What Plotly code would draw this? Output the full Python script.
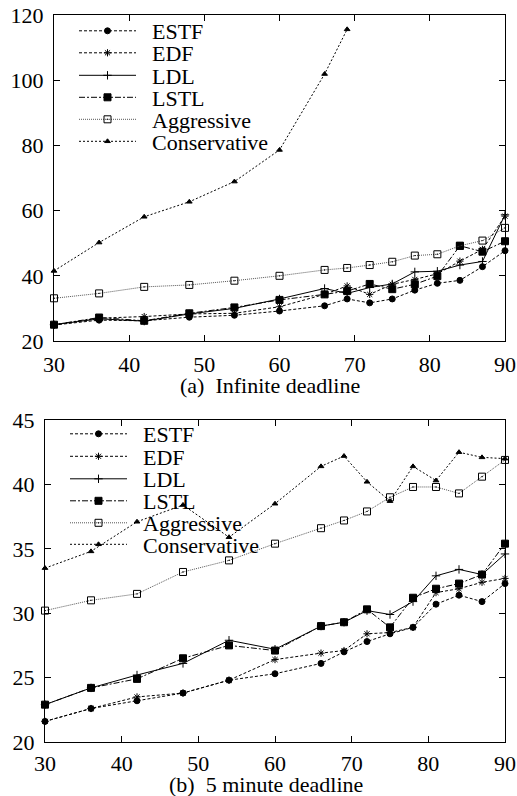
import plotly.graph_objects as go

# ---------------- data ----------------
x_vals = [30, 36, 42, 48, 54, 60, 66, 69, 72, 75, 78, 81, 84, 87, 90]

# (a) Infinite deadline
estf_a = [24.9, 26.4, 26.2, 27.3, 27.9, 29.2, 30.8, 32.9, 31.7, 32.9, 35.6, 37.7, 38.6, 42.8, 47.7]
edf_a = [25.0, 27.0, 27.5, 28.3, 28.5, 30.5, 34.3, 36.9, 34.3, 37.4, 38.9, 40.6, 44.5, 48.1, 58.3]
ldl_a = [25.0, 26.8, 26.1, 28.3, 30.0, 32.9, 36.1, 34.6, 36.4, 37.5, 41.2, 41.4, 43.3, 44.4, 58.7]
lstl_a = [25.0, 27.2, 26.2, 28.5, 30.3, 32.6, 34.3, 35.3, 37.5, 35.9, 37.4, 39.9, 49.2, 47.4, 50.6]
aggr_a = [33.1, 34.6, 36.6, 37.2, 38.5, 40.0, 41.8, 42.4, 43.3, 44.3, 46.2, 46.6, 49.2, 50.8, 54.7]
x_cons_a = [30, 36, 42, 48, 54, 60, 66, 69]
cons_a = [41.5, 50.2, 58.1, 62.7, 68.9, 78.6, 101.9, 115.6]

# (b) 5 minute deadline
estf_b = [21.6, 22.6, 23.2, 23.8, 24.8, 25.3, 26.1, 27.0, 27.8, 28.4, 28.9, 30.7, 31.4, 30.9, 32.3]
edf_b = [21.6, 22.6, 23.5, 23.8, 24.8, 26.4, 26.9, 27.1, 28.4, 28.5, 28.9, 31.6, 31.9, 32.4, 32.7]
ldl_b = [22.9, 24.2, 25.2, 26.1, 27.9, 27.2, 29.0, 29.3, 30.2, 29.9, 30.9, 32.9, 33.4, 33.0, 34.6]
lstl_b = [22.9, 24.2, 24.9, 26.5, 27.5, 27.1, 29.0, 29.3, 30.3, 28.9, 31.2, 31.9, 32.3, 33.0, 35.4]
aggr_b = [30.2, 31.0, 31.5, 33.2, 34.1, 35.4, 36.6, 37.2, 37.9, 39.0, 39.8, 39.8, 39.3, 40.6, 41.9]
cons_b = [33.5, 34.8, 37.1, 38.4, 35.9, 38.5, 41.4, 42.2, 40.2, 38.7, 41.4, 40.3, 42.5, 42.1, 42.0]

names = ["ESTF", "EDF", "LDL", "LSTL", "Aggressive", "Conservative"]
x_ticks = [30, 40, 50, 60, 70, 80, 90]
y_ticks_a = [20, 40, 60, 80, 100, 120]
y_ticks_b = [20, 25, 30, 35, 40, 45]

# ---------------- styles ----------------
styles = {
    "ESTF": dict(dash="3px,2px", symbol="circle", size=6, color="black", lw=1),
    "EDF": dict(dash="3px,2px", symbol="asterisk-open", size=6, color="black", lw=1),
    "LDL": dict(dash="solid", symbol="cross-thin-open", size=6, color="black", lw=1),
    "LSTL": dict(dash="6px,2px,2px,2px", symbol="square", size=7, color="black", lw=1),
    "Aggressive": dict(dash="1px,1px", symbol="square-open-dot", size=7, color="#555555", lw=1),
    "Conservative": dict(dash="2px,2px", symbol="triangle-up", size=5, color="black", lw=1),
}

W, H = 517, 796
FONT = "Liberation Serif, Times New Roman, Times, serif"
FS = 22

fig = go.Figure()

series_a = [(x_vals, estf_a), (x_vals, edf_a), (x_vals, ldl_a), (x_vals, lstl_a),
            (x_vals, aggr_a), (x_cons_a, cons_a)]
series_b = [(x_vals, estf_b), (x_vals, edf_b), (x_vals, ldl_b), (x_vals, lstl_b),
            (x_vals, aggr_b), (x_vals, cons_b)]

# legend row centres (pixels from top)
rows_a = [31, 53, 75.5, 97.5, 119.5, 141.5]
rows_b = [434, 456.5, 479, 501, 523, 544.5]

for panel, series, rows, xa, ya, lx in [
    ("a", series_a, rows_a, "x", "y", 80),
    ("b", series_b, rows_b, "x2", "y2", 71),
]:
    for i, (name, (xs, ys)) in enumerate(zip(names, series)):
        st = styles[name]
        lg_idx = i + 1 + (0 if panel == "a" else 6)
        lg = "legend" if lg_idx == 1 else f"legend{lg_idx}"
        fig.add_trace(go.Scatter(
            x=xs, y=ys, name="\u00a0\u00a0" + name, mode="lines+markers",
            xaxis=xa, yaxis=ya, legend=lg, cliponaxis=False,
            line=dict(color=st["color"], width=st["lw"], dash=st["dash"]),
            marker=dict(symbol=st["symbol"], size=st["size"], color="black",
                        line=dict(color="black", width=1)),
        ))
        fig.update_layout({lg: dict(
            x=(lx - 6) / W, xanchor="left",
            y=1 - rows[i] / H, yanchor="middle",
            bgcolor="rgba(0,0,0,0)", borderwidth=0,
            font=dict(family=FONT, size=FS, color="black"),
            itemwidth=57,
        )})

axis_common = dict(
    showgrid=False, zeroline=False, showline=True, linecolor="black", linewidth=1,
    mirror="ticks", ticks="inside", ticklen=6, tickcolor="black",
    tickfont=dict(family=FONT, size=FS, color="black"), automargin=False,
)

fig.update_layout(
    width=W, height=H,
    margin=dict(l=0, r=0, t=0, b=0),
    paper_bgcolor="white", plot_bgcolor="white",
    showlegend=True,
    xaxis=dict(axis_common, domain=[54 / W, 505 / W], range=[30, 90],
               tickvals=x_ticks, anchor="y", ticklabelstandoff=4),
    yaxis=dict(axis_common, domain=[1 - 341 / H, 1 - 15 / H], range=[20, 120],
               tickvals=y_ticks_a, anchor="x", ticklabelstandoff=5),
    xaxis2=dict(axis_common, domain=[45 / W, 505 / W], range=[30, 90],
                tickvals=x_ticks, anchor="y2", ticklabelstandoff=2),
    yaxis2=dict(axis_common, domain=[1 - 742 / H, 1 - 420 / H], range=[20, 45],
                tickvals=y_ticks_b, anchor="x2", ticklabelstandoff=5),
    annotations=[
        dict(text="(a)  Infinite deadline", x=270 / W, y=1 - 385 / H, xref="paper", yref="paper",
             showarrow=False, font=dict(family=FONT, size=FS, color="black"),
             xanchor="center", yanchor="middle"),
        dict(text="(b)  5 minute deadline", x=266 / W, y=1 - 784 / H, xref="paper", yref="paper",
             showarrow=False, font=dict(family=FONT, size=FS, color="black"),
             xanchor="center", yanchor="middle"),
    ],
)

fig.write_html(
    "out.html",
    config={"displayModeBar": False},
    post_script="document.body.style.margin='0px';document.body.style.overflow='hidden';",
)
